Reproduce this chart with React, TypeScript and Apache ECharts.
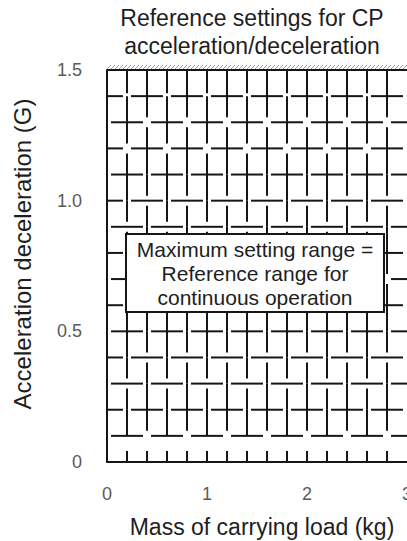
import React, { useEffect, useRef } from "react";
import * as echarts from "echarts";

const TITLE_LINES = ["Reference settings for CP", "acceleration/deceleration"];
const X_NAME = "Mass of carrying load (kg)";
const Y_NAME = "Acceleration deceleration (G)";
const BOX_LINES = ["Maximum setting range =", "Reference range for", "continuous operation"];
const MASS_TICKS = [0, 1, 2, 3];
const ACC_TICKS = [0, 0.5, 1.0, 1.5];
const RANGE_MASS = [0, 3];
const RANGE_ACC = [0, 1.5];
const HATCH_STEP_MASS = 0.2;
const HATCH_STEP_ACC = 0.1;

const FONT = '"Liberation Sans", Arial, Helvetica, sans-serif';
const INK = "#161616";

export default function App() {
  const ref = useRef<HTMLDivElement>(null);
  useEffect(() => {
    const chart = echarts.init(ref.current as HTMLDivElement, null, { renderer: "svg" });

    const renderItem = (params: any, api: any) => {
      const m0 = api.value(0), m1 = api.value(1), a0 = api.value(2), a1 = api.value(3);
      const nCols = Math.round((m1 - m0) / HATCH_STEP_MASS);
      const nRows = Math.round((a1 - a0) / HATCH_STEP_ACC);
      const px = (i: number) => api.coord([m0 + i * HATCH_STEP_MASS, a0])[0];
      const py = (k: number) => api.coord([m0, a0 + k * HATCH_STEP_ACC])[1];
      const children: any[] = [];
      const seg = (x1: number, y1: number, x2: number, y2: number, stroke = INK, w = 2) =>
        children.push({ type: "line", shape: { x1, y1, x2, y2 }, style: { stroke, lineWidth: w }, silent: true });
      const G = 4;
      // horizontal broken lines
      for (let k = 1; k < nRows; k++) {
        const y = py(k);
        for (let c = 0; c < nCols; c++) {
          const xa = px(c), xb = px(c + 1);
          const leftCross = (c + k) % 2 === 0;
          const rightCross = (c + 1 + k) % 2 === 0;
          seg(leftCross ? xa : xa + G, y, rightCross ? xb : xb - G, y);
        }
      }
      // vertical broken lines
      for (let i = 1; i < nCols; i++) {
        const x = px(i);
        for (let r = 0; r < nRows; r++) {
          const yb = py(r), yt = py(r + 1);
          let top = yt, bot = yb;
          if (r === 0) {
            top = yb - 11;
          } else if (r === nRows - 1) {
            if (i % 2) bot = yb - 3;
          } else {
            const mode = (r + (i % 2)) % 3;
            if (mode === 0) top = yt + 5;
            else if (mode === 1) bot = yb - 5;
          }
          seg(x, top, x, bot);
        }
      }
      // top boundary with hatch
      const yTop = py(nRows), xL = px(0), xR = px(nCols);
      for (let x = xL; x < xR; x += 4) seg(x, yTop - 1, x + 4, yTop - 5, "#9c9c9c", 1);
      seg(xL, yTop, xR, yTop, INK, 2);
      return { type: "group", children };
    };

    const labelStyle = { color: "#5a5a5a", fontSize: 18, fontFamily: FONT };

    chart.setOption({
      animation: false,
      backgroundColor: "#ffffff",
      grid: { left: 107, right: 0, top: 70, bottom: 79, outerBoundsMode: "none", containLabel: false },
      xAxis: {
        type: "value",
        min: MASS_TICKS[0],
        max: MASS_TICKS[MASS_TICKS.length - 1],
        interval: 1,
        axisLine: { show: true, lineStyle: { color: INK, width: 2 } },
        axisTick: { show: false },
        splitLine: { show: false },
        axisLabel: { ...labelStyle, margin: 23 },
      },
      yAxis: {
        type: "value",
        min: ACC_TICKS[0],
        max: ACC_TICKS[ACC_TICKS.length - 1],
        interval: 0.5,
        axisLine: { show: true, lineStyle: { color: INK, width: 2 } },
        axisTick: { show: false },
        splitLine: { show: false },
        axisLabel: { ...labelStyle, margin: 25, formatter: (v: number) => (v === 0 ? "0" : v.toFixed(1)) },
      },
      series: [
        {
          type: "custom",
          renderItem,
          dimensions: ["massMin", "massMax", "accMin", "accMax"],
          encode: { x: [0, 1], y: [2, 3] },
          data: [[RANGE_MASS[0], RANGE_MASS[1], RANGE_ACC[0], RANGE_ACC[1]]],
          silent: true,
          z: 3,
        },
      ],
      graphic: [
        {
          type: "text", x: 252, y: 18, z: 100,
          style: { text: TITLE_LINES[0], fontSize: 23, fontFamily: FONT, fill: "#1e1e1e", align: "center", verticalAlign: "middle" },
        },
        {
          type: "text", x: 252, y: 46, z: 100,
          style: { text: TITLE_LINES[1], fontSize: 23, fontFamily: FONT, fill: "#1e1e1e", align: "center", verticalAlign: "middle" },
        },
        {
          type: "text", x: 22, y: 254, z: 100, rotation: Math.PI / 2,
          style: { text: Y_NAME, fontSize: 24, fontFamily: FONT, fill: "#1e1e1e", align: "center", verticalAlign: "middle" },
        },
        {
          type: "text", x: 262, y: 527, z: 100,
          style: { text: X_NAME, fontSize: 23, fontFamily: FONT, fill: "#1e1e1e", align: "center", verticalAlign: "middle" },
        },
        {
          type: "rect", z: 100,
          shape: { x: 126, y: 234, width: 258, height: 78 },
          style: { fill: "#ffffff", stroke: INK, lineWidth: 2 },
        },
        {
          type: "text", x: 255, y: 273, z: 101,
          style: { text: BOX_LINES.join("\n"), fontSize: 21, lineHeight: 24, fontFamily: FONT, fill: "#1e1e1e", align: "center", verticalAlign: "middle" },
        },
      ],
    });
    return () => chart.dispose();
  }, []);
  return <div ref={ref} style={{ position: "fixed", left: 0, top: 0, width: 407, height: 541 }} />;
}
